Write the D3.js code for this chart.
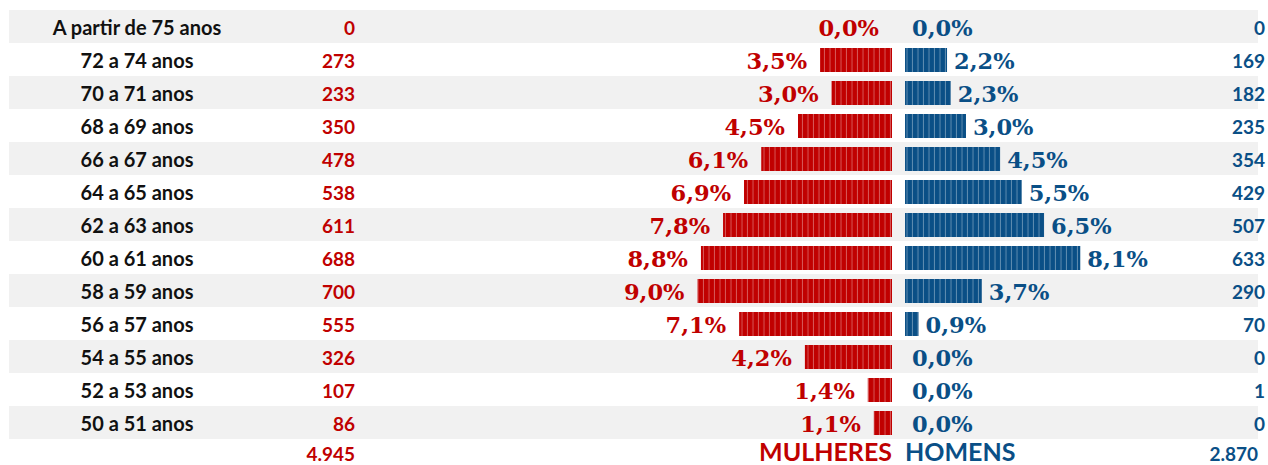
<!DOCTYPE html>
<html>
<head>
<meta charset="utf-8">
<script src="https://cdn.jsdelivr.net/npm/d3@7"></script>
<style>
  html, body { margin: 0; padding: 0; background: #fff; }
  svg { display: block; }
</style>
</head>
<body>
<div id="chart"></div>
<script>
// age groups, top to bottom
const faixas = [
  "A partir de 75 anos", "72 a 74 anos", "70 a 71 anos", "68 a 69 anos",
  "66 a 67 anos", "64 a 65 anos", "62 a 63 anos", "60 a 61 anos",
  "58 a 59 anos", "56 a 57 anos", "54 a 55 anos", "52 a 53 anos", "50 a 51 anos"
];
const mulheres = [0, 273, 233, 350, 478, 538, 611, 688, 700, 555, 326, 107, 86];
const mulheresPct = ["0,0%", "3,5%", "3,0%", "4,5%", "6,1%", "6,9%", "7,8%", "8,8%", "9,0%", "7,1%", "4,2%", "1,4%", "1,1%"];
const homens = [0, 169, 182, 235, 354, 429, 507, 633, 290, 70, 0, 1, 0];
const homensPct = ["0,0%", "2,2%", "2,3%", "3,0%", "4,5%", "5,5%", "6,5%", "8,1%", "3,7%", "0,9%", "0,0%", "0,0%", "0,0%"];
const totais = { mulheres: "4.945", homens: "2.870" };

const width = 1268;
const height = 465;
const red = "#c00000";
const blue = "#0a4f86";
const sans = "Lato, 'Open Sans', sans-serif";
const serif = "'DejaVu Serif', serif";

const svg = d3.select("#chart")
  .append("svg")
  .attr("width", width)
  .attr("height", height);

// stripe patterns for the bars
const defs = svg.append("defs");
[["stripeRed", red], ["stripeBlue", blue]].forEach(([id, col]) => {
  const p = defs.append("pattern")
    .attr("id", id)
    .attr("patternUnits", "userSpaceOnUse")
    .attr("width", 5.5)
    .attr("height", 10);
  p.append("rect").attr("width", 5.5).attr("height", 10).attr("fill", col);
  p.append("rect").attr("x", 4.5).attr("width", 1).attr("height", 10)
    .attr("fill", "#fff").attr("opacity", 0.35);
});

// rows
const y = d3.scaleBand()
  .domain(d3.range(faixas.length + 1))
  .range([10, 10 + 33 * (faixas.length + 1)]);

const cx = 898.5; // centre between the two bar groups
const gap = 6.5;
const x = d3.scaleLinear().domain([0, 700]).range([0, 201]);

// alternating background
svg.selectAll("rect.band")
  .data(faixas)
  .join("rect")
  .attr("class", "band")
  .filter((d, i) => i % 2 === 0)
  .attr("x", 9)
  .attr("y", (d, i) => y(faixas.indexOf(d)))
  .attr("width", 1249)
  .attr("height", y.bandwidth())
  .attr("fill", "#f1f1f1");

const rows = svg.selectAll("g.row")
  .data(faixas.map((f, i) => ({ f, i })))
  .join("g")
  .attr("class", "row")
  .attr("transform", (d) => `translate(0, ${y(d.i)})`);

// category labels
rows.append("text")
  .attr("x", 137)
  .attr("y", 25)
  .attr("text-anchor", "middle")
  .style("font-family", sans)
  .style("font-weight", "bold")
  .style("font-size", "20px")
  .attr("fill", "#111")
  .text((d) => d.f);

// counts
rows.append("text")
  .attr("x", 355)
  .attr("y", 25)
  .attr("text-anchor", "end")
  .style("font-family", sans)
  .style("font-weight", "bold")
  .style("font-size", "19px")
  .attr("fill", red)
  .text((d) => mulheres[d.i]);

rows.append("text")
  .attr("x", 1265)
  .attr("y", 25)
  .attr("text-anchor", "end")
  .style("font-family", sans)
  .style("font-weight", "bold")
  .style("font-size", "19px")
  .attr("fill", blue)
  .text((d) => homens[d.i]);

// women bars (left)
rows.append("rect")
  .attr("x", (d) => cx - x(mulheres[d.i]))
  .attr("y", 5)
  .attr("width", (d) => Math.max(0, x(mulheres[d.i]) - gap))
  .attr("height", 24)
  .attr("fill", "url(#stripeRed)");

// men bars (right)
rows.append("rect")
  .attr("x", cx + gap)
  .attr("y", 5)
  .attr("width", (d) => Math.max(0, x(homens[d.i]) - gap))
  .attr("height", 24)
  .attr("fill", "url(#stripeBlue)");

// percent labels
rows.append("text")
  .attr("x", (d) => Math.min(cx - x(mulheres[d.i]), cx - gap) - 13)
  .attr("y", 25.5)
  .attr("text-anchor", "end")
  .style("font-family", serif)
  .style("font-weight", "bold")
  .style("font-size", "22.5px")
  .attr("fill", red)
  .text((d) => mulheresPct[d.i]);

rows.append("text")
  .attr("x", (d) => Math.max(cx + x(homens[d.i]), cx + gap) + 7)
  .attr("y", 25.5)
  .attr("text-anchor", "start")
  .style("font-family", serif)
  .style("font-weight", "bold")
  .style("font-size", "22.5px")
  .attr("fill", blue)
  .text((d) => homensPct[d.i]);

// totals row
const last = y(faixas.length);
svg.append("text")
  .attr("x", 355)
  .attr("y", last + 22)
  .attr("text-anchor", "end")
  .style("font-family", sans)
  .style("font-weight", "bold")
  .style("font-size", "19px")
  .attr("fill", red)
  .text(totais.mulheres);

svg.append("text")
  .attr("x", 1258)
  .attr("y", last + 22)
  .attr("text-anchor", "end")
  .style("font-family", sans)
  .style("font-weight", "bold")
  .style("font-size", "19px")
  .attr("fill", blue)
  .text(totais.homens);

svg.append("text")
  .attr("x", cx - gap)
  .attr("y", last + 22)
  .attr("text-anchor", "end")
  .style("font-family", sans)
  .style("font-weight", "bold")
  .style("font-size", "25px")
  .attr("fill", red)
  .text("MULHERES");

svg.append("text")
  .attr("x", cx + gap)
  .attr("y", last + 22)
  .attr("text-anchor", "start")
  .style("font-family", sans)
  .style("font-weight", "bold")
  .style("font-size", "25px")
  .attr("fill", blue)
  .text("HOMENS");
</script>
</body>
</html>
